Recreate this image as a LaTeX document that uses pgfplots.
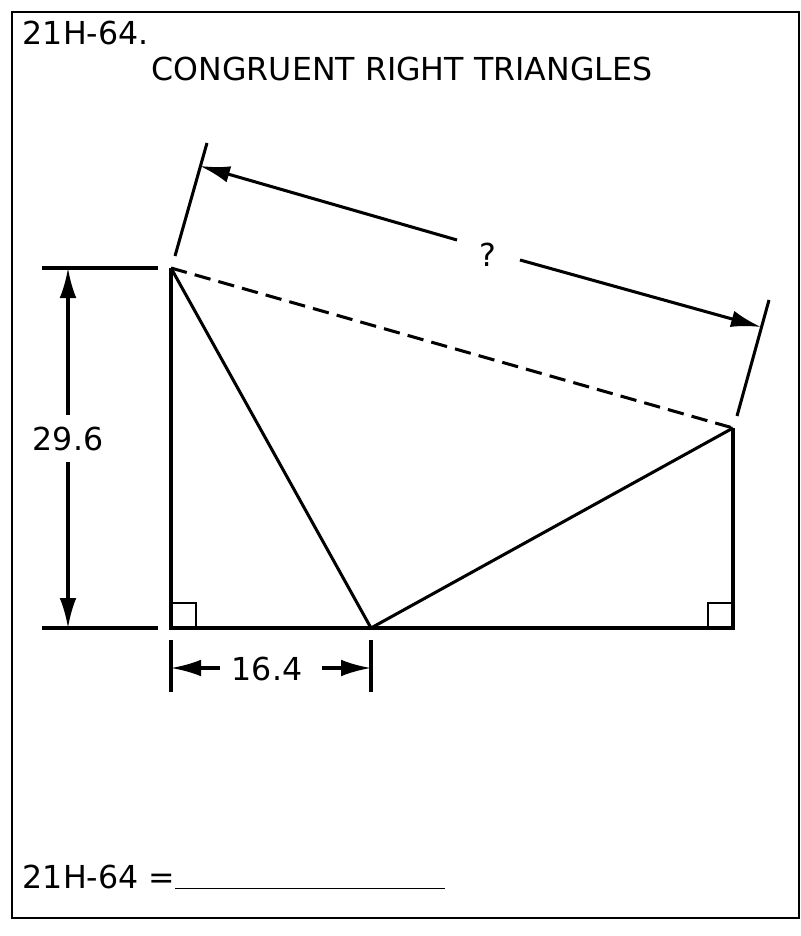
\documentclass[border=0pt]{standalone}
\usepackage{pgfplots}
\pgfplotsset{compat=1.18}
\usetikzlibrary{arrows.meta}
\usepackage{fontspec}
\setmainfont{DejaVu Sans}
\begin{document}
\begin{tikzpicture}[L/.style={black,solid,line width=2.6pt,mark=none}, A/.style={L,-{Latex[length=9mm,width=5mm]}}]
\begin{axis}[scale only axis, width=240mm, height=280.8mm, xmin=0, xmax=800, ymin=0, ymax=936, y dir=reverse, hide axis, clip=false]
\fill[white] (axis cs:0,0) rectangle (axis cs:800,936);
\draw[line width=1pt] (axis cs:12,12) rectangle (axis cs:799,918);
% triangles
\addplot[L] coordinates {(171,268) (171,628) (733,628) (733,428)};
\addplot[L] coordinates {(171,268) (371,628) (733,428)};
\addplot[L, dash pattern=on 14pt off 7pt] coordinates {(171,268) (733,428)};
\addplot[L,line width=1.8pt] coordinates {(171,603) (196,603) (196,628)};
\addplot[L,line width=1.8pt] coordinates {(733,603) (708,603) (708,628)};
% vertical dimension
\addplot[L] coordinates {(42,268) (158,268)};
\addplot[L] coordinates {(42,628) (158,628)};
\addplot[A] coordinates {(68,415) (68,268)};
\addplot[A] coordinates {(68,462) (68,628)};
% horizontal dimension
\addplot[L] coordinates {(171,640) (171,692)};
\addplot[L] coordinates {(371,640) (371,692)};
\addplot[A] coordinates {(220,668) (171,668)};
\addplot[A] coordinates {(322,668) (371,668)};
% top dimension
\addplot[L] coordinates {(175,256) (207,143)};
\addplot[L] coordinates {(737,416) (769,300)};
\addplot[A] coordinates {(457,240) (200,166)};
\addplot[A] coordinates {(520,260) (761,327)};
\fontsize{27}{31}\selectfont
\node[anchor=west] at (axis cs:12,33) {21H-64.};
\node at (axis cs:402,69) {CONGRUENT RIGHT TRIANGLES};
\node at (axis cs:68,439) {29.6};
\node at (axis cs:267,669) {16.4};
\node at (axis cs:488,255) {?};
\node[anchor=west] at (axis cs:12,877) {21H-64 =\rule[-1pt]{81mm}{1pt}};
\end{axis}
\end{tikzpicture}
\end{document}
